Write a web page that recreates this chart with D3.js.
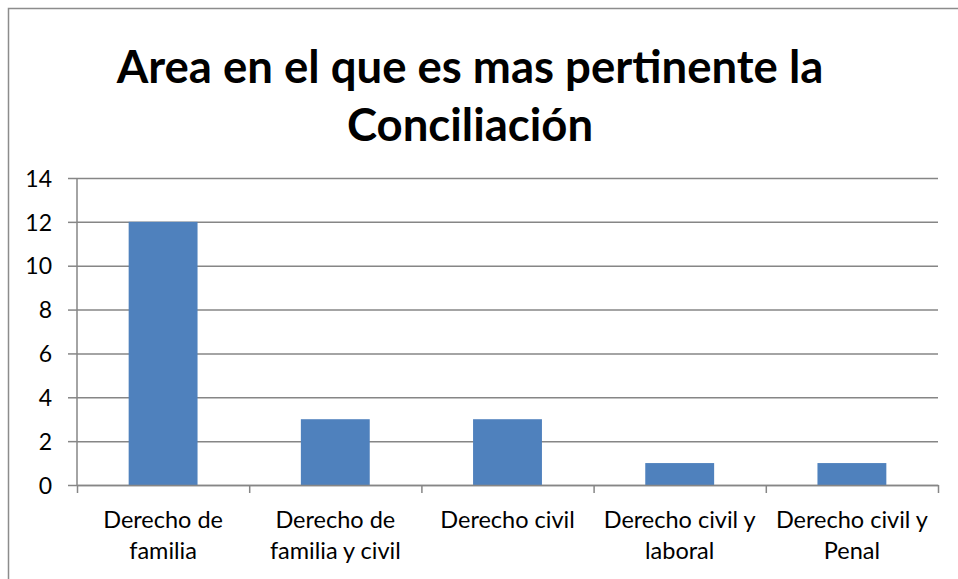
<!DOCTYPE html>
<html>
<head>
<meta charset="utf-8">
<script src="https://cdn.jsdelivr.net/npm/d3@7"></script>
<style>
  html, body { margin: 0; padding: 0; background: #fff; }
  svg { display: block; }
</style>
</head>
<body>
<div id="chart"></div>
<script>
"use strict";

// data
const titleLines = ["Area en el que es mas pertinente la", "Conciliación"];
const categories = [
    ["Derecho de", "familia"],
    ["Derecho de", "familia y civil"],
    ["Derecho civil"],
    ["Derecho civil y", "laboral"],
    ["Derecho civil y", "Penal"]
];
const values = [12, 3, 3, 1, 1];
const yTicks = [0, 2, 4, 6, 8, 10, 12, 14];

const width = 958, height = 579;
const plot = { left: 77, right: 938, top: 178, bottom: 485 };
const font = "Lato, 'Open Sans', sans-serif";
const gridColor = "#868686";
const barColor = "#4f81bd";

const svg = d3.select("#chart").append("svg")
    .attr("width", width)
    .attr("height", height);

// outer frame (only top and left edges are visible)
svg.append("path")
    .attr("d", `M8.5,${height}V8.5H${width}`)
    .attr("fill", "none")
    .attr("stroke", "#8c8c8c")
    .attr("stroke-width", 1.5);

// title
svg.append("g")
    .attr("font-family", font)
    .attr("font-weight", "bold")
    .attr("font-size", 45.5)
    .attr("text-anchor", "middle")
    .selectAll("text")
    .data(titleLines)
    .join("text")
    .attr("x", 470)
    .attr("y", (d, i) => 83 + i * 58)
    .text(d => d);

const keys = categories.map(c => c.join(" "));

const x = d3.scaleBand()
    .domain(keys)
    .range([plot.left, plot.right])
    .paddingInner(0.6)
    .paddingOuter(0.3);

// category boundaries for the bottom ticks
const xEdge = d3.scaleLinear()
    .domain([0, keys.length])
    .range([plot.left, plot.right]);

const y = d3.scaleLinear()
    .domain([0, 14])
    .range([plot.bottom, plot.top]);

// gridlines + left axis
const yAxis = svg.append("g")
    .attr("transform", `translate(${plot.left},0)`)
    .call(d3.axisLeft(y)
        .tickValues(yTicks)
        .tickSize(9)
        .tickPadding(16));
yAxis.select(".domain").remove();
yAxis.selectAll(".tick line")
    .attr("stroke", gridColor)
    .attr("stroke-width", 1.5);
yAxis.selectAll(".tick")
    .append("line")
    .attr("x2", plot.right - plot.left)
    .attr("stroke", gridColor)
    .attr("stroke-width", 1.5);
yAxis.selectAll(".tick text")
    .attr("font-family", font)
    .attr("font-size", 23)
    .attr("fill", "#000")
    .attr("dy", "0.36em");

svg.append("line")
    .attr("x1", plot.left).attr("x2", plot.left)
    .attr("y1", plot.top).attr("y2", plot.bottom)
    .attr("stroke", gridColor)
    .attr("stroke-width", 1.5);

// bars
svg.append("g")
    .selectAll("rect")
    .data(values)
    .join("rect")
    .attr("x", (d, i) => x(keys[i]))
    .attr("y", d => y(d))
    .attr("width", x.bandwidth())
    .attr("height", d => y(0) - y(d))
    .attr("fill", barColor);

// bottom axis
const xAxis = svg.append("g")
    .attr("transform", `translate(0,${plot.bottom})`)
    .call(d3.axisBottom(xEdge)
        .tickValues(d3.range(keys.length + 1))
        .tickFormat("")
        .tickSize(8)
        .tickSizeOuter(0));
xAxis.selectAll(".domain, .tick line")
    .attr("stroke", gridColor)
    .attr("stroke-width", 1.5);

// category labels (two lines)
svg.append("g")
    .attr("font-family", font)
    .attr("font-size", 23.5)
    .attr("text-anchor", "middle")
    .selectAll("text")
    .data(categories)
    .join("text")
    .attr("x", (d, i) => x(keys[i]) + x.bandwidth() / 2)
    .attr("y", 528)
    .selectAll("tspan")
    .data(d => d)
    .join("tspan")
    .attr("x", function () { return this.parentNode.getAttribute("x"); })
    .attr("dy", (d, i) => i ? 31 : 0)
    .text(d => d);
</script>
</body>
</html>
